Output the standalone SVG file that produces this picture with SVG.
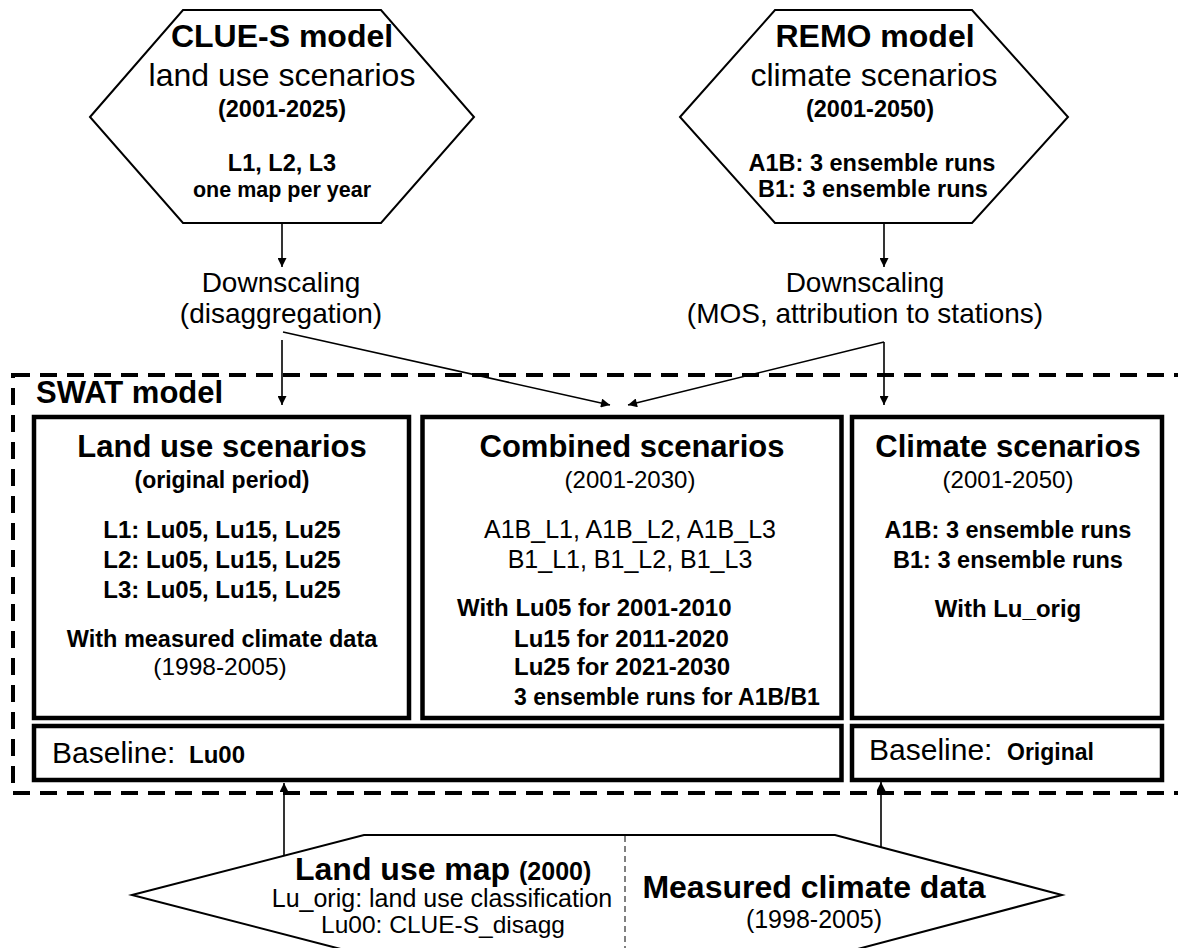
<svg xmlns="http://www.w3.org/2000/svg" width="1178" height="948" viewBox="0 0 1178 948">
  <style>
    text { font-family: "Liberation Sans", Arial, sans-serif; fill: #000; }
    .c { text-anchor: middle; }
    .b { font-weight: bold; }
    .hex { fill: #fff; stroke: #000; stroke-width: 2; }
    .box { fill: #fff; stroke: #000; stroke-width: 4.5; }
    .swat { fill: none; stroke: #000; stroke-width: 4; stroke-dasharray: 17 10; }
    .link { fill: none; stroke: #000; stroke-width: 1.6; }
  </style>
  <defs>
    <marker id="arrow" viewBox="0 0 10 10" refX="10" refY="5" markerWidth="10" markerHeight="9" markerUnits="userSpaceOnUse" orient="auto">
      <path d="M0,0 L10,5 L0,10 z" fill="#000"/>
    </marker>
  </defs>
  <rect width="1178" height="948" fill="#fff"/>

  <!-- SWAT model frame -->
  <g id="swat">
    <rect class="swat" x="13" y="375" width="1190" height="418"/>
    <text class="b" x="36" y="403" font-size="31">SWAT model</text>
  </g>

  <!-- CLUE-S hexagon -->
  <g id="clues">
    <polygon class="hex" points="90,117 183,10 381,10 474,117 381,223 183,223"/>
    <text class="c b" x="282" y="47" font-size="32">CLUE-S model</text>
    <text class="c" x="282" y="86" font-size="32">land use scenarios</text>
    <text class="c b" x="282" y="117" font-size="23.5">(2001-2025)</text>
    <text class="c b" x="282" y="171" font-size="23.5">L1, L2, L3</text>
    <text class="c b" x="282" y="197" font-size="21.5">one map per year</text>
  </g>

  <!-- REMO hexagon -->
  <g id="remo">
    <polygon class="hex" points="680,117 775,10 972,10 1068,117 972,223 775,223"/>
    <text class="c b" x="875" y="47" font-size="32">REMO model</text>
    <text class="c" x="874" y="86" font-size="32">climate scenarios</text>
    <text class="c b" x="870" y="117" font-size="23.5">(2001-2050)</text>
    <text class="c b" x="872" y="171" font-size="23.5">A1B: 3 ensemble runs</text>
    <text class="c b" x="873" y="197" font-size="23.5">B1: 3 ensemble runs</text>
  </g>

  <!-- Downscaling labels -->
  <g id="down-landuse">
    <text class="c" x="281" y="292" font-size="28">Downscaling</text>
    <text class="c" x="281" y="323" font-size="28">(disaggregation)</text>
  </g>
  <g id="down-climate">
    <text class="c" x="865" y="292" font-size="28">Downscaling</text>
    <text class="c" x="865" y="323" font-size="28">(MOS, attribution to stations)</text>
  </g>

  <!-- Land use scenarios box -->
  <g id="landuse">
    <rect class="box" x="34" y="417" width="375" height="301"/>
    <text class="c b" x="222" y="457" font-size="31">Land use scenarios</text>
    <text class="c b" x="222" y="488" font-size="23">(original period)</text>
    <text class="c b" x="222" y="538" font-size="24">L1: Lu05, Lu15, Lu25</text>
    <text class="c b" x="222" y="568" font-size="24">L2: Lu05, Lu15, Lu25</text>
    <text class="c b" x="222" y="598" font-size="24">L3: Lu05, Lu15, Lu25</text>
    <text class="c b" x="222" y="647" font-size="23.5">With measured climate data</text>
    <text class="c" x="220" y="675" font-size="24.5">(1998-2005)</text>
  </g>

  <!-- Combined scenarios box -->
  <g id="combined">
    <rect class="box" x="422.5" y="417" width="419" height="301"/>
    <text class="c b" x="632" y="457" font-size="31">Combined scenarios</text>
    <text class="c" x="630" y="488" font-size="24">(2001-2030)</text>
    <text class="c" x="630" y="538" font-size="25">A1B_L1, A1B_L2, A1B_L3</text>
    <text class="c" x="630" y="568" font-size="25">B1_L1, B1_L2, B1_L3</text>
    <text class="b" x="457" y="616" font-size="24">With Lu05 for 2001-2010</text>
    <text class="b" x="514" y="647" font-size="24">Lu15 for 2011-2020</text>
    <text class="b" x="514" y="675" font-size="24">Lu25 for 2021-2030</text>
    <text class="b" x="514" y="705" font-size="23">3 ensemble runs for A1B/B1</text>
  </g>

  <!-- Climate scenarios box -->
  <g id="climate">
    <rect class="box" x="852" y="417" width="310" height="301"/>
    <text class="c b" x="1008" y="457" font-size="31">Climate scenarios</text>
    <text class="c" x="1008" y="488" font-size="24">(2001-2050)</text>
    <text class="c b" x="1008" y="538" font-size="23.5">A1B: 3 ensemble runs</text>
    <text class="c b" x="1008" y="568" font-size="23.5">B1: 3 ensemble runs</text>
    <text class="c b" x="1008" y="617" font-size="24">With Lu_orig</text>
  </g>

  <!-- Baseline boxes -->
  <g id="baseline-landuse">
    <rect class="box" x="34" y="726" width="807.5" height="54"/>
    <text x="52" y="763" font-size="30">Baseline:</text>
    <text class="b" x="189" y="763" font-size="24">Lu00</text>
  </g>
  <g id="baseline-climate">
    <rect class="box" x="852" y="726" width="310" height="54"/>
    <text x="869" y="760" font-size="30">Baseline:</text>
    <text class="b" x="1007" y="760" font-size="23">Original</text>
  </g>

  <!-- Measured inputs hexagon -->
  <g id="inputs">
    <polygon class="hex" points="132,895 364,835 835,835 1062,895 835,955 364,955"/>
    <line x1="625" y1="836" x2="625" y2="948" stroke="#000" stroke-width="1" stroke-dasharray="6 4"/>
    <text x="295" y="880" font-size="32" class="b">Land use map</text>
    <text x="519" y="880" font-size="25" class="b">(2000)</text>
    <text class="c" x="442" y="907" font-size="25">Lu_orig: land use classification</text>
    <text class="c" x="443" y="933" font-size="24.5">Lu00: CLUE-S_disagg</text>
    <text class="c b" x="814" y="898" font-size="32">Measured climate data</text>
    <text class="c" x="814" y="928" font-size="25">(1998-2005)</text>
  </g>

  <!-- Connectors -->
  <g id="connectors">
    <line class="link" x1="282" y1="224" x2="282" y2="267" marker-end="url(#arrow)"/>
    <line class="link" x1="884" y1="224" x2="884" y2="267" marker-end="url(#arrow)"/>
    <line class="link" x1="282" y1="340" x2="282" y2="405" marker-end="url(#arrow)"/>
    <line class="link" x1="283" y1="332" x2="610" y2="405" marker-end="url(#arrow)"/>
    <line class="link" x1="884" y1="342" x2="884" y2="405" marker-end="url(#arrow)"/>
    <line class="link" x1="884" y1="342" x2="628" y2="405" marker-end="url(#arrow)"/>
    <line class="link" x1="284" y1="856" x2="284" y2="783" marker-end="url(#arrow)"/>
    <line class="link" x1="881" y1="847" x2="881" y2="782" marker-end="url(#arrow)"/>
  </g>
</svg>
